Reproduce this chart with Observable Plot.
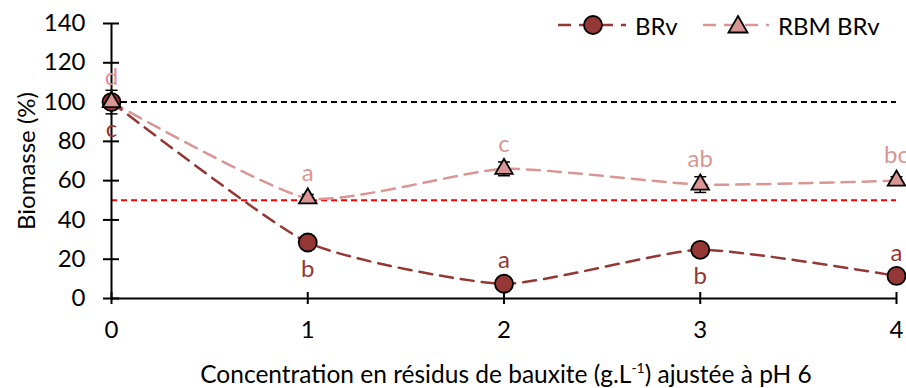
<!DOCTYPE html>
<html><head><meta charset="utf-8">
<script src="https://cdn.jsdelivr.net/npm/d3@7"></script>
<script src="https://cdn.jsdelivr.net/npm/@observablehq/plot@0.6"></script>
<style>
body{margin:0;background:#fff;font-family:Lato, "Open Sans", sans-serif;}
#wrap{position:relative;width:906px;height:388px;overflow:hidden;}
#wrap svg.plot{position:absolute;left:0;top:0;}
.leg{position:absolute;top:10px;height:30px;display:flex;align-items:center;font-size:24px;color:#000;}
.leg svg{margin-right:9px;}
#xlab{position:absolute;left:0;width:906px;top:359px;text-align:center;font-size:24.5px;padding-left:106px;box-sizing:border-box;}
#xlab sup{font-size:14px;vertical-align:10px;}
</style></head><body>
<div id="wrap"></div>
<script>
const concentrations = [0, 1, 2, 3, 4];
const brv = [100, 28.5, 7.5, 24.8, 11.5];
const brvErr = [6, 1.5, 1.5, 1.5, 1.5];
const rbm = [100, 51, 66, 58, 60];
const rbmErr = [3, 2, 3.5, 4, 2];
const brvLetters = ["c", "b", "a", "b", "a"];
const rbmLetters = ["d", "a", "c", "ab", "bc"];
const refLines = [100, 50];
const refColors = ["#000000", "#FF0000"];
const yTicks = [0, 20, 40, 60, 80, 100, 120, 140];
const xTicks = [0, 1, 2, 3, 4];
const seriesNames = ["BRv", "RBM BRv"];

const dark = "#953735", light = "#D99694";
const brvData = concentrations.map((x, i) => ({x, y: brv[i], e: brvErr[i], t: brvLetters[i]}));
const rbmData = concentrations.map((x, i) => ({x, y: rbm[i], e: rbmErr[i], t: rbmLetters[i]}));
const refData = refLines.map((v, i) => ({v, c: refColors[i]}));
const cap = {draw(ctx) { ctx.moveTo(-6, 0); ctx.lineTo(6, 0); }};
const below = [0, 1, 3];
const fs = 24;

const chart = Plot.plot({
  width: 906, height: 388,
  marginLeft: 111, marginRight: 10, marginTop: 23, marginBottom: 90,
  style: {fontFamily: "Lato, 'Open Sans', sans-serif", fontSize: fs + "px", background: "transparent"},
  x: {domain: [0, 4]},
  y: {domain: [0, 140]},
  marks: [
    Plot.ruleY(refData, {y: "v", stroke: "c", strokeWidth: 2, strokeDasharray: "6,4"}),
    Plot.line(rbmData, {x: "x", y: "y", stroke: light, strokeWidth: 2.5, strokeDasharray: "13,8", curve: "cardinal", tension: 0.45}),
    Plot.line(brvData, {x: "x", y: "y", stroke: dark, strokeWidth: 2.5, strokeDasharray: "13,8", curve: "cardinal", tension: 0.45}),
    Plot.ruleX([0], {y1: 0, y2: 140, stroke: "#000", strokeWidth: 2}),
    Plot.ruleY([0], {stroke: "#000", strokeWidth: 2}),
    Plot.axisY({ticks: yTicks, tickSize: 8, tickPadding: 18, strokeWidth: 2, label: "Biomasse (%)", labelAnchor: "center", labelArrow: "none", labelOffset: 94, fontSize: fs}),
    Plot.axisY({ticks: yTicks, tickSize: 8, dx: 8, text: null, strokeWidth: 2, label: null}),
    Plot.axisX({ticks: xTicks, tickSize: 6, tickPadding: 16, strokeWidth: 2, label: null, tickFormat: d3.format("d"), fontSize: fs}),
    Plot.axisX({ticks: xTicks, tickSize: 6, dy: -6, text: null, strokeWidth: 2, label: null}),
    Plot.ruleX(brvData, {x: "x", y1: d => d.y - d.e, y2: d => d.y + d.e, stroke: "#000", strokeWidth: 1.5}),
    Plot.dot(brvData, {x: "x", y: d => d.y + d.e, symbol: cap, stroke: "#000", strokeWidth: 1.5}),
    Plot.dot(brvData, {x: "x", y: d => d.y - d.e, symbol: cap, stroke: "#000", strokeWidth: 1.5}),
    Plot.ruleX(rbmData, {x: "x", y1: d => d.y - d.e, y2: d => d.y + d.e, stroke: "#000", strokeWidth: 1.5}),
    Plot.dot(rbmData, {x: "x", y: d => d.y + d.e, symbol: cap, stroke: "#000", strokeWidth: 1.5}),
    Plot.dot(rbmData, {x: "x", y: d => d.y - d.e, symbol: cap, stroke: "#000", strokeWidth: 1.5}),
    Plot.dot(brvData, {x: "x", y: "y", r: 9, fill: dark, stroke: "#000", strokeWidth: 1.8}),
    Plot.dot(rbmData, {x: "x", y: "y", r: 6.5, symbol: "triangle", fill: light, stroke: "#000", strokeWidth: 1.8}),
    Plot.text(brvData, {filter: (d, i) => below.includes(i), x: "x", y: "y", text: "t", dy: 27, fill: dark, fontSize: fs}),
    Plot.text(brvData, {filter: (d, i) => !below.includes(i), x: "x", y: "y", text: "t", dy: -23, fill: dark, fontSize: fs}),
    Plot.text(rbmData, {x: "x", y: "y", text: "t", dy: -25, fill: light, fontSize: fs, textAnchor: "middle"})
  ]
});
const wrap = document.getElementById("wrap");
wrap.appendChild(chart);

const leg1 = document.createElement("div");
leg1.className = "leg"; leg1.style.left = "558px";
leg1.innerHTML = `<svg width="68" height="24"><line x1="0" y1="12" x2="68" y2="12" stroke="${dark}" stroke-width="2.5" stroke-dasharray="13,8"/><circle cx="35" cy="12" r="9" fill="${dark}" stroke="#000" stroke-width="1.8"/></svg><span>${seriesNames[0]}</span>`;
wrap.appendChild(leg1);
const leg2 = document.createElement("div");
leg2.className = "leg"; leg2.style.left = "703px";
leg2.innerHTML = `<svg width="66" height="24"><line x1="0" y1="12" x2="66" y2="12" stroke="${light}" stroke-width="2.5" stroke-dasharray="13,8"/><path d="M35,3 L44.5,19.5 L25.5,19.5 Z" fill="${light}" stroke="#000" stroke-width="1.8"/></svg><span>${seriesNames[1]}</span>`;
wrap.appendChild(leg2);
const xl = document.createElement("div");
xl.id = "xlab";
xl.innerHTML = "Concentration en résidus de bauxite (g.L<sup>-1</sup>) ajustée à pH 6";
wrap.appendChild(xl);
</script>
</body></html>
